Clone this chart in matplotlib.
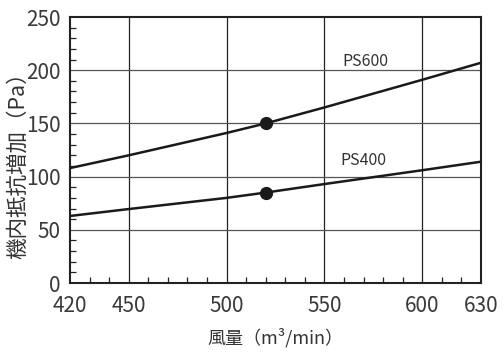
import matplotlib
matplotlib.use("Agg")
import matplotlib.pyplot as plt
from matplotlib.ticker import MultipleLocator

plt.rcParams['font.family'] = ['Noto Sans CJK JP', 'DejaVu Sans']

# values
airflow = [420, 450, 500, 520, 550, 600, 630]
ps600 = [108, 120, 141, 150, 165, 191, 207]
ps400 = [63, 69.5, 80, 85, 93, 106, 114]
marker_x = [520, 520]
marker_y = [150, 85]
x_ticks = [420, 450, 500, 550, 600, 630]
y_ticks = [0, 50, 100, 150, 200, 250]

fig = plt.figure(figsize=(5.04, 3.53), dpi=100)
ax = fig.add_axes([70 / 504, 1 - 283 / 353, 411 / 504, 266 / 353])

ax.set_xlim(420, 630)
ax.set_ylim(0, 250)

for x in [450, 500, 550, 600]:
    ax.axvline(x, color='#222222', lw=0.9, zorder=1)
for y in [50, 100, 150, 200]:
    ax.axhline(y, color='#555555', lw=0.9, zorder=1)

ax.plot(airflow, ps600, color='#1a1a1a', lw=1.8, zorder=3)
ax.plot(airflow, ps400, color='#1a1a1a', lw=1.8, zorder=3)
ax.plot(marker_x, marker_y, 'o', color='#1a1a1a', ms=8.5, zorder=4)

ax.text(571, 208, 'PS600', ha='center', va='center', fontsize=11.5, color='#333333')
ax.text(570, 115, 'PS400', ha='center', va='center', fontsize=11.5, color='#333333')

ax.set_xticks(x_ticks)
ax.set_yticks(y_ticks)
ax.xaxis.set_minor_locator(MultipleLocator(10))
ax.yaxis.set_minor_locator(MultipleLocator(10))
ax.tick_params(which='major', length=0, labelsize=15, labelcolor='#3a3a3a')
ax.tick_params(axis='x', which='major', pad=9)
ax.tick_params(axis='y', which='major', pad=7)
ax.tick_params(which='minor', direction='in', length=4, width=0.9, color='#222222')

for s in ax.spines.values():
    s.set_linewidth(1.5)
    s.set_color('#222222')

ax.set_xlabel('風量（m³/min）', fontsize=13, color='#333333')
ax.xaxis.set_label_coords(0.5, -0.17)
ax.set_ylabel('機内抵抗増加（Pa）', fontsize=15.5, color='#333333')
ax.yaxis.set_label_coords(-0.1, 0.46)

fig.savefig('out.png', dpi=100)
